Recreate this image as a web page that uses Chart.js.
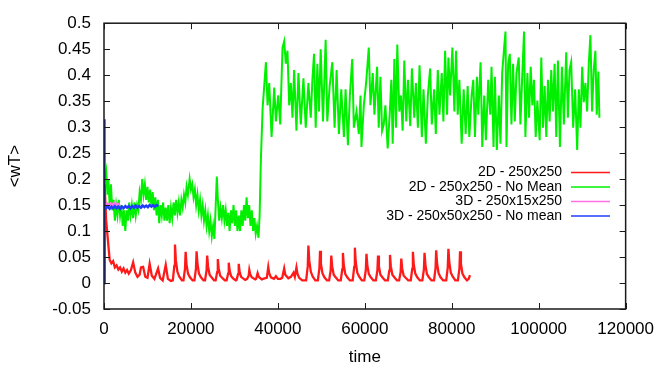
<!DOCTYPE html>
<html>
<head>
<meta charset="utf-8">
<script src="https://cdn.jsdelivr.net/npm/chart.js@4/dist/chart.umd.min.js"></script>
<style>
  html, body { margin: 0; padding: 0; background: #fff; }
  #c { display: block; }
</style>
</head>
<body>
<canvas id="c" width="664" height="368"></canvas>
<script>
/* ============ <wT> vs time — 2D / 3D runs ============ */

// series names (legend order)
const seriesNames = ['2D - 250x250', '2D - 250x250 - No Mean', '3D - 250x15x250', '3D - 250x50x250 - No mean'];

// tick values / labels
const xTicks = [0, 20000, 40000, 60000, 80000, 100000, 120000];
const xTickLabels = ['0', '20000', '40000', '60000', '80000', '100000', '120000'];
const yTicks = [-0.05, 0, 0.05, 0.1, 0.15, 0.2, 0.25, 0.3, 0.35, 0.4, 0.45, 0.5];
const yTickLabels = ['-0.05', '0', '0.05', '0.1', '0.15', '0.2', '0.25', '0.3', '0.35', '0.4', '0.45', '0.5'];

// [time, <wT>]
const red2D = [
  [0, 0.0], [120, 0.19], [500, 0.12], [1300, 0.045], [1700, 0.038], [2100, 0.042], [2500, 0.03], [2900, 0.034],
  [3300, 0.026], [3700, 0.03], [4100, 0.022], [4500, 0.028], [4900, 0.02], [5300, 0.025], [5700, 0.018],
  [6200, 0.025], [6700, 0.04], [7200, 0.02], [7700, 0.012], [8200, 0.016], [8500, 0.03], [9000, 0.031],
  [9500, 0.012], [10000, 0.01], [10500, 0.037], [11000, 0.014], [11600, 0.008], [12440, 0.028], [12900, 0.01],
  [13500, 0.005], [14200, 0.035], [14700, 0.008], [15400, 0.004],
  [15830, 0.005], [16180, 0.033], [16330, 0.074], [16530, 0.044], [16880, 0.022], [17330, 0.012], [17930, 0.005],
  [18280, 0.005], [18630, 0.027], [18780, 0.06], [18980, 0.036], [19330, 0.018], [19780, 0.011], [20380, 0.005],
  [20800, 0.005], [21150, 0.027], [21300, 0.061], [21500, 0.037], [21850, 0.018], [22300, 0.011], [22900, 0.005],
  [23240, 0.005], [23590, 0.024], [23740, 0.053], [23940, 0.032], [24290, 0.016], [24740, 0.011], [25340, 0.005],
  [25680, 0.005], [26030, 0.021], [26180, 0.046], [26380, 0.028], [26730, 0.014], [27180, 0.01], [27780, 0.005],
  [28200, 0.005], [28550, 0.018], [28700, 0.039], [28900, 0.024], [29250, 0.013], [29700, 0.009], [30300, 0.005],
  [30490, 0.006], [30840, 0.017], [30990, 0.037], [31190, 0.022], [31540, 0.012], [31990, 0.009], [32500, 0.006],
  [32930, 0.008], [33280, 0.014], [33430, 0.025], [33630, 0.017], [33980, 0.011], [34800, 0.007],
  [35000, 0.008], [35340, 0.019], [35600, 0.012], [36300, 0.007], [36900, 0.009],
  [37450, 0.01], [37790, 0.031], [38000, 0.019], [38400, 0.011], [39100, 0.008],
  [39550, 0.013], [40000, 0.008], [40600, 0.008], [41000, 0.01],
  [41450, 0.028], [41700, 0.016], [42400, 0.009], [43000, 0.012], [43600, 0.02], [43900, 0.012],
  [44270, 0.03], [44500, 0.018], [44900, 0.01], [45600, 0.005], [46500, 0.005],
  [46870, 0.032], [47020, 0.072], [47220, 0.043], [47570, 0.022], [48020, 0.012], [48620, 0.005], [49200, 0.005],
  [49550, 0.028], [49700, 0.062], [49900, 0.037], [50250, 0.019], [50700, 0.011], [51300, 0.005], [51790, 0.005],
  [52140, 0.024], [52290, 0.053], [52490, 0.032], [52840, 0.016], [53290, 0.011], [53890, 0.005], [54460, 0.005],
  [54810, 0.026], [54960, 0.058], [55160, 0.035], [55510, 0.017], [55960, 0.011], [56560, 0.005], [57210, 0.005],
  [57560, 0.031], [57710, 0.068], [57910, 0.041], [58260, 0.02], [58710, 0.012], [59310, 0.005], [59880, 0.005],
  [60230, 0.025], [60380, 0.056], [60580, 0.034], [60930, 0.017], [61380, 0.011], [61980, 0.005], [62540, 0.005],
  [62890, 0.024], [63040, 0.053], [63240, 0.032], [63590, 0.016], [64040, 0.011], [64640, 0.005], [65290, 0.005],
  [65640, 0.024], [65790, 0.054], [65990, 0.032], [66340, 0.016], [66790, 0.011], [67390, 0.005], [67890, 0.005],
  [68240, 0.021], [68390, 0.047], [68590, 0.028], [68940, 0.014], [69390, 0.01], [69990, 0.005], [70560, 0.005],
  [70910, 0.027], [71060, 0.06], [71260, 0.036], [71610, 0.018], [72060, 0.011], [72660, 0.005], [73240, 0.005],
  [73590, 0.026], [73740, 0.058], [73940, 0.035], [74290, 0.017], [74740, 0.011], [75340, 0.005], [75920, 0.005],
  [76270, 0.028], [76420, 0.063], [76620, 0.038], [76970, 0.019], [77420, 0.011], [78020, 0.005], [78730, 0.005],
  [79080, 0.03], [79230, 0.066], [79430, 0.04], [79780, 0.02], [80230, 0.012], [80830, 0.005], [81410, 0.005],
  [81760, 0.027], [81910, 0.061], [82110, 0.037], [82460, 0.018], [82910, 0.011], [83510, 0.005], [83900, 0.008],
  [84200, 0.015]
];

const green2DNoMean = [
  [200, 0.2], [500, 0.215], [800, 0.17], [1000, 0.2], [1300, 0.15], [1600, 0.19], [1900, 0.14], [2200, 0.16],
  [2500, 0.12], [2800, 0.15], [3100, 0.13], [3400, 0.16], [3700, 0.13], [4000, 0.15], [4300, 0.11], [4600, 0.14],
  [4900, 0.1], [5200, 0.14], [5500, 0.12], [5800, 0.155], [6100, 0.13], [6400, 0.15], [6700, 0.125], [7000, 0.155],
  [7300, 0.13], [7600, 0.15], [7900, 0.14], [8200, 0.175], [8500, 0.16], [8800, 0.2], [9100, 0.17], [9400, 0.19],
  [9700, 0.16], [10000, 0.185], [10300, 0.155], [10600, 0.18], [10900, 0.15], [11200, 0.175], [11500, 0.14],
  [11800, 0.165], [12100, 0.13], [12400, 0.16], [12700, 0.115], [13000, 0.15], [13300, 0.13], [13600, 0.155],
  [13900, 0.12], [14200, 0.145], [14500, 0.12], [14800, 0.15], [15100, 0.115], [15400, 0.145], [15700, 0.125],
  [16000, 0.155], [16300, 0.13], [16600, 0.16], [16900, 0.135], [17200, 0.155], [17500, 0.13], [17800, 0.16],
  [18100, 0.145], [18400, 0.17], [18700, 0.155], [19000, 0.185], [19300, 0.17], [19700, 0.2], [20000, 0.18],
  [20300, 0.19], [20600, 0.165], [20900, 0.18], [21200, 0.15], [21500, 0.17], [21800, 0.14], [22100, 0.16],
  [22400, 0.13], [22700, 0.15], [23000, 0.12], [23300, 0.14], [23600, 0.11], [23900, 0.13], [24200, 0.1],
  [24500, 0.12], [24800, 0.09], [25100, 0.11], [25400, 0.085], [25700, 0.15], [25950, 0.205], [26200, 0.16],
  [26500, 0.12], [26800, 0.145], [27100, 0.125], [27400, 0.15], [27700, 0.12], [28000, 0.14], [28300, 0.11],
  [28600, 0.135], [28900, 0.1], [29200, 0.14], [29500, 0.115], [29800, 0.15], [30100, 0.11], [30400, 0.14],
  [30700, 0.1], [31000, 0.13], [31300, 0.1], [31600, 0.14], [31900, 0.11], [32200, 0.15], [32500, 0.12],
  [32800, 0.165], [33100, 0.125], [33400, 0.15], [33700, 0.11], [34000, 0.14], [34300, 0.1], [34600, 0.125],
  [34900, 0.095], [35200, 0.11], [35550, 0.087], [35800, 0.13], [36100, 0.24], [36490, 0.336],
  [37250, 0.425], [37630, 0.342], [38010, 0.385], [38550, 0.281], [39160, 0.376], [39540, 0.311], [40080, 0.361],
  [40530, 0.305], [41070, 0.453], [41450, 0.465], [41830, 0.422], [42210, 0.447], [42600, 0.342], [42980, 0.385],
  [43360, 0.318], [43740, 0.41], [44270, 0.293], [44730, 0.404], [45270, 0.305], [45880, 0.394], [46410, 0.299],
  [47020, 0.385], [47560, 0.318], [47940, 0.391], [48320, 0.441], [48700, 0.299], [49080, 0.422], [49460, 0.33],
  [49850, 0.45], [50380, 0.311], [50990, 0.468], [51370, 0.311], [51910, 0.379], [52520, 0.425], [53050, 0.299],
  [53510, 0.41], [54040, 0.287], [54580, 0.373], [55190, 0.281], [55570, 0.373], [56110, 0.265], [56560, 0.361],
  [57100, 0.431], [57480, 0.299], [58090, 0.33], [58620, 0.287], [59010, 0.361], [59230, 0.262], [59770, 0.342],
  [60300, 0.385], [60910, 0.453], [61300, 0.342], [61830, 0.404], [62210, 0.324], [62820, 0.416], [63200, 0.299],
  [63590, 0.397], [63970, 0.293],
  [64350, 0.305], [64730, 0.342], [65260, 0.259], [65720, 0.324], [66100, 0.391], [66410, 0.268], [66790, 0.431],
  [67170, 0.299], [67470, 0.459], [67930, 0.33], [68310, 0.361], [68700, 0.293], [69080, 0.428], [69540, 0.311],
  [69920, 0.391], [70450, 0.302], [70830, 0.413], [71370, 0.318], [71750, 0.385], [72210, 0.299], [72590, 0.419],
  [73120, 0.281], [73500, 0.373], [74040, 0.268], [74500, 0.361], [75030, 0.413], [75410, 0.305], [75950, 0.373],
  [76330, 0.287], [76790, 0.41], [77170, 0.324], [77700, 0.404], [78080, 0.311], [78470, 0.447], [78920, 0.324],
  [79230, 0.434], [79610, 0.361], [80150, 0.453], [80600, 0.33], [80990, 0.447], [81370, 0.324], [81750, 0.391],
  [82280, 0.268], [82740, 0.373], [83200, 0.287], [83660, 0.379], [84040, 0.281], [84570, 0.361], [84950, 0.391],
  [85340, 0.281], [85790, 0.397], [86100, 0.324], [86630, 0.425], [87020, 0.262], [87470, 0.361], [87850, 0.275],
  [88390, 0.391], [88850, 0.324], [89150, 0.416], [89610, 0.262], [89920, 0.397], [90370, 0.256], [90830, 0.361],
  [91210, 0.268], [91600, 0.404], [92050, 0.453], [92360, 0.484],
  [92590, 0.262], [92970, 0.422], [93350, 0.441], [93730, 0.305], [94110, 0.422], [94500, 0.311], [94880, 0.404],
  [95410, 0.434], [95790, 0.305], [96180, 0.391], [96630, 0.484], [96940, 0.281], [97400, 0.404], [97780, 0.318],
  [98160, 0.416], [98540, 0.342], [98920, 0.391], [99310, 0.281], [99690, 0.351], [100220, 0.275], [100600, 0.434],
  [100990, 0.299], [101370, 0.379], [101750, 0.281], [102130, 0.391], [102510, 0.311], [102890, 0.41], [103270, 0.33],
  [103660, 0.422], [104040, 0.281], [104420, 0.428], [104880, 0.262], [105340, 0.416], [105790, 0.305],
  [106330, 0.444], [106710, 0.318], [107090, 0.41], [107470, 0.425], [107930, 0.299], [108390, 0.373],
  [108850, 0.256], [109230, 0.373], [109610, 0.299], [110000, 0.416], [110370, 0.348], [110750, 0.385],
  [111140, 0.33], [111520, 0.422], [111900, 0.477], [112280, 0.33], [112660, 0.41], [113040, 0.447],
  [113350, 0.324], [113730, 0.407], [113960, 0.318]
];

const magenta3D = [
  [0, 0.152], [300, 0.15], [700, 0.153], [1100, 0.149], [1500, 0.153], [1900, 0.15], [2300, 0.154],
  [2700, 0.15], [3100, 0.153], [3500, 0.15], [3700, 0.151]
];

const blue3DNoMean = [
  [0, 0.0], [60, 0.315], [150, 0.15], [500, 0.144], [900, 0.147], [1300, 0.143], [1700, 0.147], [2100, 0.144],
  [2500, 0.148], [2900, 0.144], [3300, 0.147], [3700, 0.143], [4100, 0.147], [4500, 0.144], [4900, 0.148],
  [5300, 0.145], [5700, 0.148], [6100, 0.144], [6500, 0.148], [6900, 0.145], [7300, 0.149], [7700, 0.145],
  [8100, 0.148], [8500, 0.145], [8900, 0.149], [9300, 0.146], [9700, 0.149], [10100, 0.146], [10500, 0.15],
  [10900, 0.147], [11300, 0.15], [11700, 0.147], [12100, 0.15], [12500, 0.148]
];

const FONT = '"Liberation Sans", Arial, Helvetica, sans-serif';
const toXY = arr => arr.map(([x, y]) => ({ x, y }));

/* marco estilo gnuplot: borde, marcas hacia dentro, leyenda y títulos */
const gnuplotFrame = {
  id: 'gnuplotFrame',
  afterDraw(chart) {
    const { ctx, chartArea: a, scales: { x, y } } = chart;
    ctx.save();
    ctx.strokeStyle = '#1a1a1a';
    ctx.lineWidth = 1.5;
    ctx.strokeRect(a.left, a.top, a.right - a.left, a.bottom - a.top);
    ctx.lineWidth = 1;
    ctx.beginPath();
    x.ticks.forEach(t => {
      const px = Math.round(x.getPixelForValue(t.value)) + 0.5;
      ctx.moveTo(px, a.bottom); ctx.lineTo(px, a.bottom - 6);
      ctx.moveTo(px, a.top); ctx.lineTo(px, a.top + 6);
    });
    y.ticks.forEach(t => {
      const py = Math.round(y.getPixelForValue(t.value)) + 0.5;
      ctx.moveTo(a.left, py); ctx.lineTo(a.left + 6, py);
      ctx.moveTo(a.right, py); ctx.lineTo(a.right - 6, py);
    });
    ctx.stroke();

    // leyenda
    ctx.font = `14px ${FONT}`;
    ctx.textAlign = 'right';
    ctx.textBaseline = 'middle';
    chart.data.datasets.forEach((ds, i) => {
      const ly = 172.5 + i * 14.5;
      ctx.fillStyle = '#000';
      ctx.fillText(ds.label, 562, ly);
      ctx.strokeStyle = ds.borderColor;
      ctx.lineWidth = 1.5;
      ctx.beginPath();
      ctx.moveTo(571, ly); ctx.lineTo(610, ly);
      ctx.stroke();
    });

    // títulos de ejes
    ctx.fillStyle = '#000';
    ctx.font = `17px ${FONT}`;
    ctx.textAlign = 'center';
    ctx.fillText('time', (a.left + a.right) / 2, 357);
    ctx.translate(15, (a.top + a.bottom) / 2);
    ctx.rotate(-Math.PI / 2);
    ctx.fillText('<wT>', 0, 0);
    ctx.restore();
  }
};

const line = (label, data, color, width, order) => ({
  label, data: toXY(data), borderColor: color, backgroundColor: color,
  borderWidth: width, pointRadius: 0, tension: 0, fill: false, order
});

new Chart(document.getElementById('c').getContext('2d'), {
  type: 'line',
  data: {
    datasets: [
      line(seriesNames[0], red2D, '#ff1a1a', 2.3, 4),
      line(seriesNames[1], green2DNoMean, '#00f000', 2, 3),
      line(seriesNames[2], magenta3D, '#ff70e8', 2.5, 2),
      line(seriesNames[3], blue3DNoMean, '#1f3cff', 2.5, 1),
    ],
  },
  options: {
    responsive: false,
    animation: false,
    devicePixelRatio: 1,
    layout: { padding: { left: 0, right: 36, top: 11, bottom: 0 } },
    plugins: { legend: { display: false }, tooltip: { enabled: false } },
    scales: {
      x: {
        type: 'linear', min: 0, max: 120000,
        grid: { display: false, drawTicks: false },
        border: { display: false },
        afterBuildTicks: s => { s.ticks = xTicks.map(v => ({ value: v })); },
        afterFit: s => { s.height = 59; },
        ticks: {
          padding: 10, maxRotation: 0, color: '#000',
          font: { family: FONT, size: 17 },
          callback: (v, i) => xTickLabels[i],
        },
      },
      y: {
        type: 'linear', min: -0.05, max: 0.5,
        grid: { display: false, drawTicks: false },
        border: { display: false },
        afterBuildTicks: s => { s.ticks = yTicks.map(v => ({ value: v })); },
        afterFit: s => { s.width = 104; },
        ticks: {
          padding: 13, color: '#000',
          font: { family: FONT, size: 17 },
          callback: (v, i) => yTickLabels[i],
        },
      },
    },
  },
  plugins: [gnuplotFrame],
});
</script>
</body>
</html>
